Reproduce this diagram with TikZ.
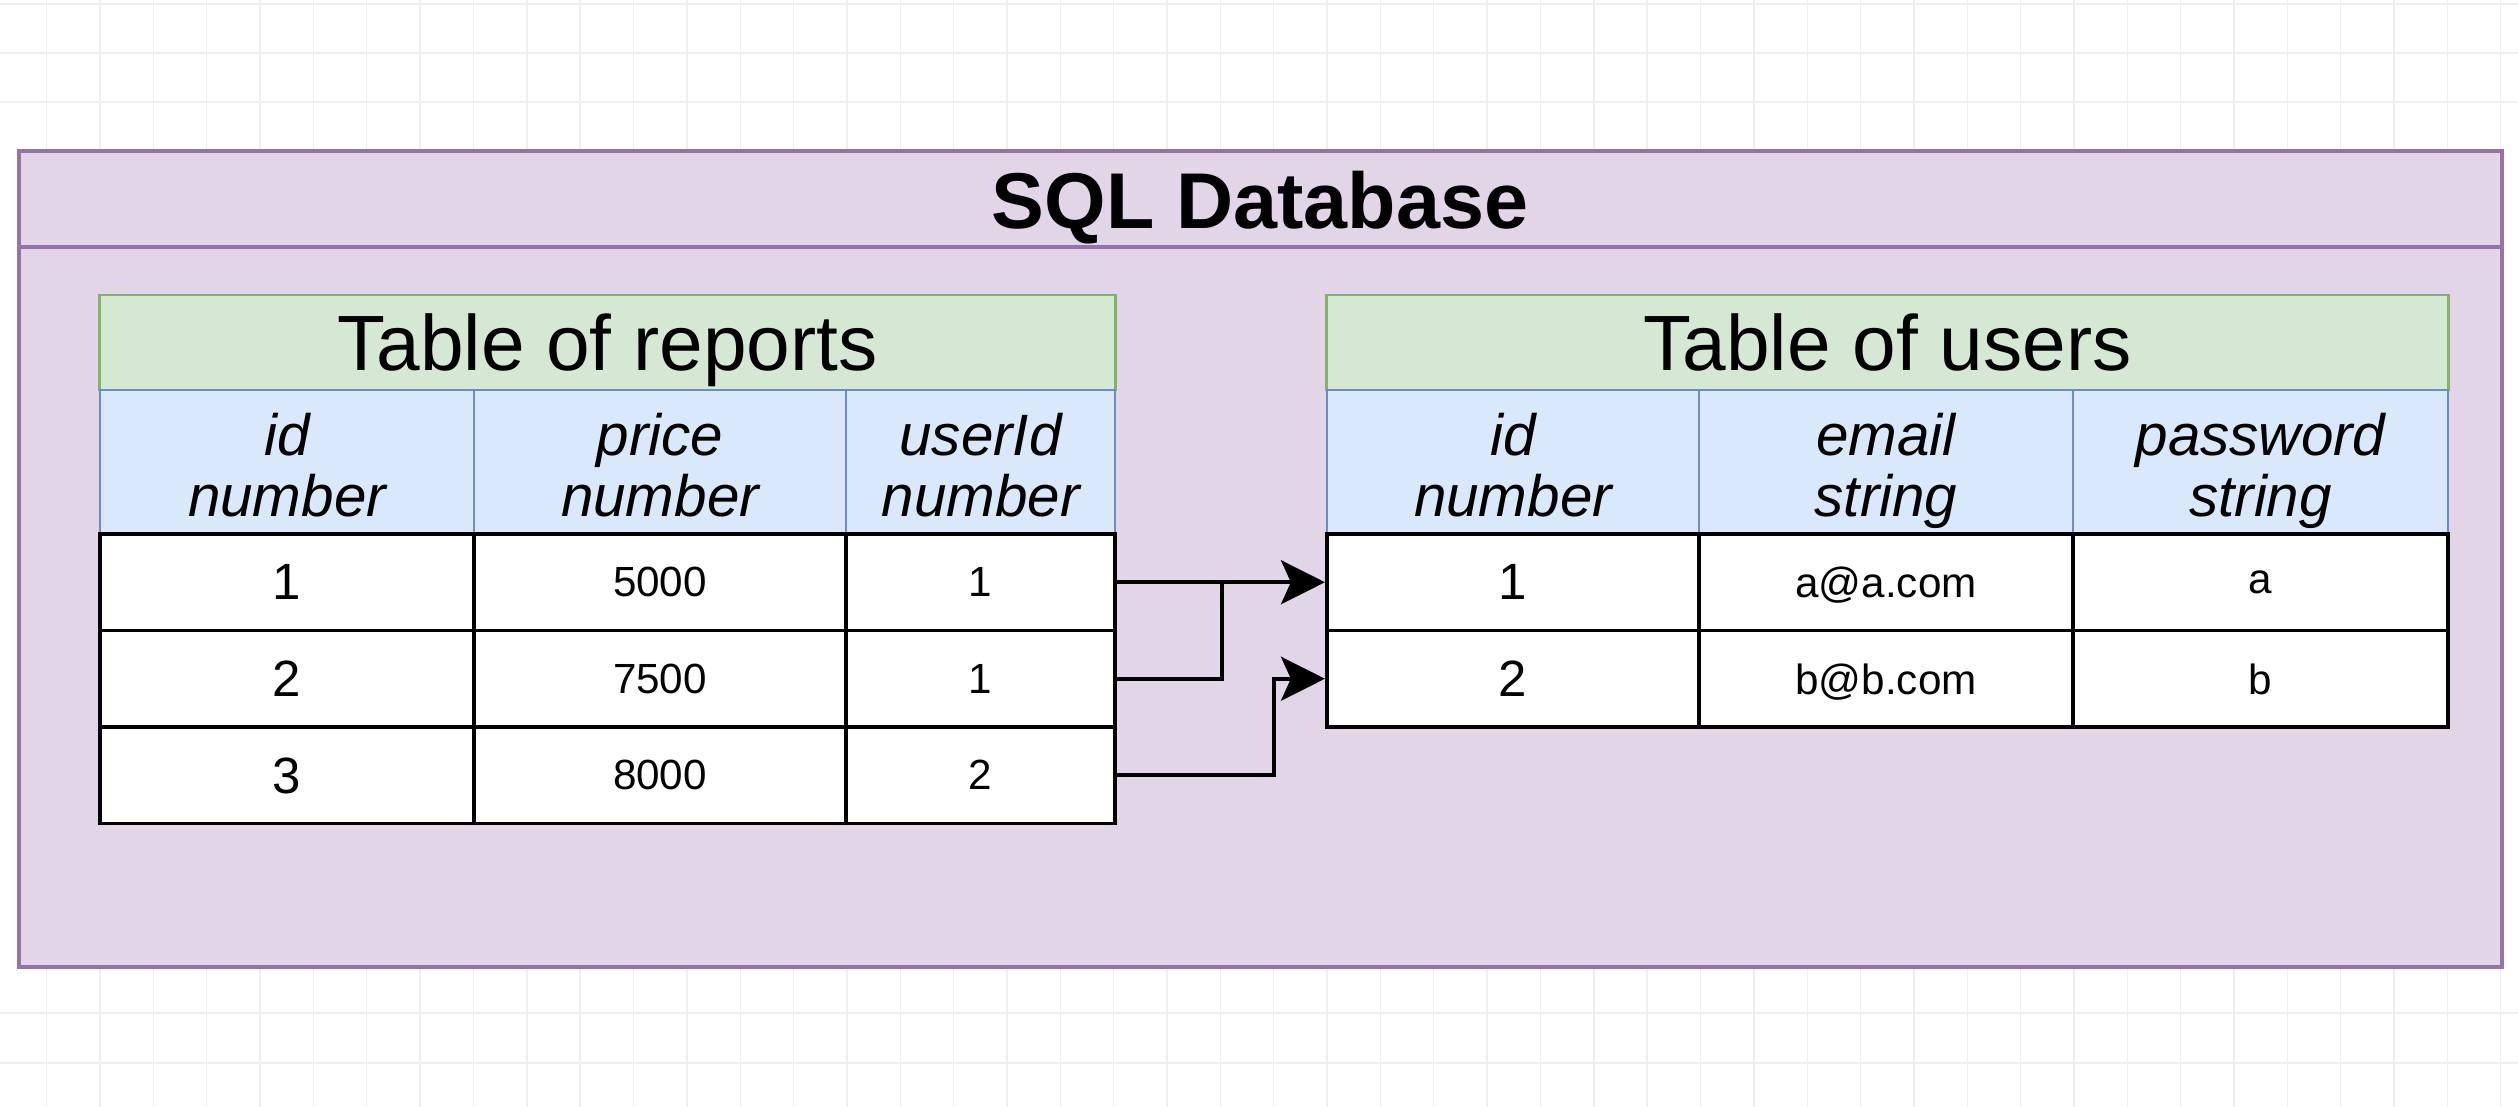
\documentclass[tikz,border=0pt]{standalone}
\usepackage{fontspec}
\setmainfont{Liberation Sans}
\usetikzlibrary{arrows.meta}
\definecolor{dbfill}{HTML}{E1D5E7}
\definecolor{dbline}{HTML}{9673A6}
\definecolor{gfill}{HTML}{D5E8D4}
\definecolor{gline}{HTML}{82B366}
\definecolor{bfill}{HTML}{DAE8FC}
\definecolor{bline}{HTML}{6C8EBF}
\definecolor{gridc}{HTML}{EFEFEF}
\begin{document}
\begin{tikzpicture}[x=0.01cm,y=-0.01cm,
  gridline/.style={draw=gridc, line width=0.4pt},
  dbbox/.style={draw=dbline, fill=dbfill, line width=1.2pt},
  titlecell/.style={draw=gline, fill=gfill, line width=0.8pt, inner sep=0pt, minimum height=0.95cm, text depth=0pt, font=\fontsize{22.3}{26}\selectfont},
  headcell/.style={draw=bline, fill=bfill, line width=0.7pt, inner sep=0pt, minimum height=1.45cm, align=center, text height=31pt, text depth=0pt, font=\itshape\fontsize{16.6}{17.6}\selectfont},
  datacell/.style={draw=black, fill=white, line width=1.1pt, inner sep=0pt, minimum height=0.965cm, text depth=0pt, font=\fontsize{12}{14}\selectfont},
  idcell/.style={datacell, font=\fontsize{14.5}{17}\selectfont},
  link/.style={draw=black, line width=1.1pt},
  arr/.style={link, -{Stealth[length=12.5pt, width=12.5pt, inset=2.8pt]}}
]
\useasboundingbox (0,0) rectangle (2518,1107);
\fill[white] (0,0) rectangle (2518,1107);
% faint background grid
\foreach \k in {-1,...,45} {\draw[gridline] ({100+53.35*\k},0) -- ({100+53.35*\k},1107);}
\foreach \yy in {4,53,102,1013,1063} {\draw[gridline] (0,\yy) -- (2518,\yy);}

% database container
\draw[dbbox] (19,151) rectangle (2502,967);
\draw[draw=dbline, line width=1.2pt] (19,247) -- (2502,247);
\node[text depth=0pt, font=\bfseries\fontsize{22.5}{26}\selectfont] (dbtitle) at (1260,200) {SQL Database};

% Table of reports
\node[titlecell, minimum width=10.15cm] (rt) at (607.5,342.5) {Table of reports};
\node[headcell, minimum width=3.74cm] (rh1) at (287,462.5) {id\\number};
\node[headcell, minimum width=3.72cm] (rh2) at (660,462.5) {price\\number};
\node[headcell, minimum width=2.69cm] (rh3) at (980.5,462.5) {userId\\number};

\node[idcell, minimum width=3.74cm] (li1) at (287,582.25) {1};
\node[datacell, minimum width=3.72cm] (lp1) at (660,582.25) {5000};
\node[datacell, minimum width=2.69cm] (lu1) at (980.5,582.25) {1};
\node[idcell, minimum width=3.74cm] (li2) at (287,678.75) {2};
\node[datacell, minimum width=3.72cm] (lp2) at (660,678.75) {7500};
\node[datacell, minimum width=2.69cm] (lu2) at (980.5,678.75) {1};
\node[idcell, minimum width=3.74cm] (li3) at (287,775.25) {3};
\node[datacell, minimum width=3.72cm] (lp3) at (660,775.25) {8000};
\node[datacell, minimum width=2.69cm] (lu3) at (980.5,775.25) {2};

% Table of users
\node[titlecell, minimum width=11.21cm] (ut) at (1887.5,342.5) {Table of users};
\node[headcell, minimum width=3.72cm] (uh1) at (1513,462.5) {id\\number};
\node[headcell, minimum width=3.74cm] (uh2) at (1886,462.5) {email\\string};
\node[headcell, minimum width=3.75cm] (uh3) at (2260.5,462.5) {password\\string};

\node[idcell, minimum width=3.72cm] (ui1) at (1513,582.25) {1};
\node[datacell, minimum width=3.74cm] (ue1) at (1886,582.25) {a@a.com};
\node[datacell, minimum width=3.75cm] (up1) at (2260.5,582.25) {a};
\node[idcell, minimum width=3.72cm] (ui2) at (1513,678.75) {2};
\node[datacell, minimum width=3.74cm] (ue2) at (1886,678.75) {b@b.com};
\node[datacell, minimum width=3.75cm] (up2) at (2260.5,678.75) {b};

% connectors
\coordinate (j1) at (1222,582.25);
\coordinate (j2) at (1274,678.75);
\draw[arr] (lu1.east) -- (ui1.west);
\draw[link] (lu2.east) -| (j1);
\draw[arr] (lu3.east) -| (j2) -- (ui2.west);
\end{tikzpicture}
\end{document}
